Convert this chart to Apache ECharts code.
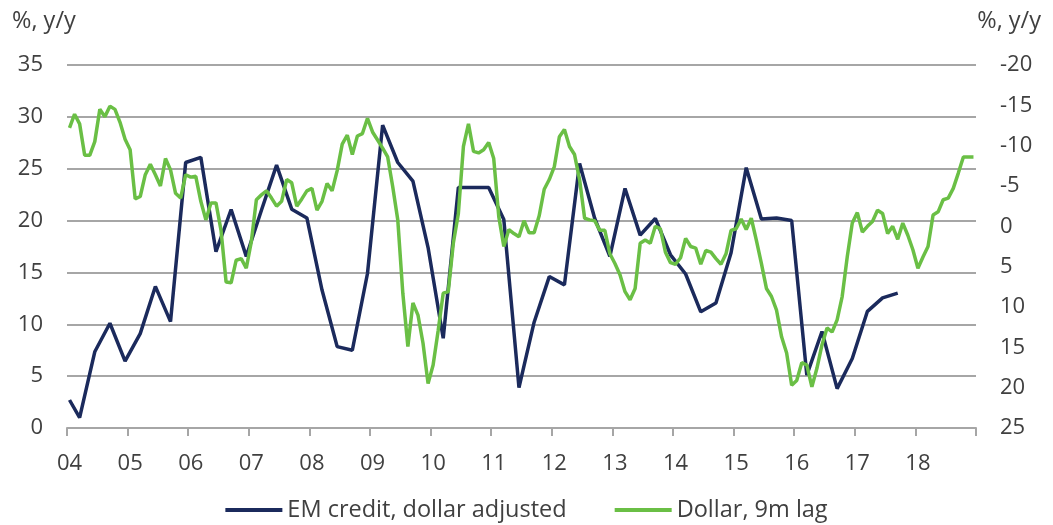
<!DOCTYPE html>
<html>
<head>
<meta charset="utf-8">
<script src="https://cdn.jsdelivr.net/npm/echarts@6/dist/echarts.min.js"></script>
<style>
html,body{margin:0;padding:0;background:#fff;}
#chart{width:1053px;height:525px;}
</style>
</head>
<body>
<div id="chart"></div>
<script>
// Year tick labels (each year has 12 monthly categories)
var yearLabels = ['04','05','06','07','08','09','10','11','12','13','14','15','16','17','18'];

// EM credit, dollar adjusted (%, y/y, left axis): first value Jan 2004, then quarter-end values Mar 2004 .. Sep 2017
var emCreditStart = 2.7;
var emCreditQuarterly = [
  1.0, 7.35, 10.1, 6.45,
  9.1, 13.65, 10.26, 25.6,
  26.1, 17.0, 21.07, 16.55,
  21.0, 25.35, 21.1, 20.25,
  13.3, 7.85, 7.5, 14.9,
  29.2, 25.6, 23.8, 17.4,
  8.65, 23.2, 23.2, 23.2,
  20.1, 3.9, 10.2, 14.6,
  13.8, 25.5, 20.2, 16.55,
  23.1, 18.6, 20.2, 16.7,
  14.85, 11.2, 12.05, 16.9,
  25.1, 20.15, 20.25, 20.0,
  5.1, 9.3, 3.8, 6.7,
  11.25, 12.55, 13.0
];

// Dollar, 9m lag (%, y/y, right inverted axis): monthly Jan 2004 .. Dec 2018
var dollarLagged = [
  -12.2, -13.9, -12.7, -8.8, -8.8, -10.5, -14.5, -13.6, -14.9, -14.5, -12.9, -10.8,
  -9.5, -3.4, -3.7, -6.4, -7.7, -6.4, -5.0, -8.4, -7.0, -4.1, -3.5, -6.4,
  -6.1, -6.2, -3.1, -0.8, -2.9, -2.9, 0.5, 6.9, 7.0, 4.2, 4.0, 5.2,
  1.9, -3.3, -3.9, -4.4, -3.5, -2.5, -3.1, -5.8, -5.4, -2.5, -3.4, -4.4,
  -4.7, -2.0, -3.1, -5.3, -4.4, -6.9, -10.2, -11.3, -8.9, -11.2, -11.5, -13.4,
  -11.7, -10.7, -9.7, -8.6, -4.9, -0.8, 8.3, 14.9, 9.5, 11.0, 14.5, 19.5,
  17.2, 12.9, 8.3, 8.1, 2.1, -1.6, -9.9, -12.7, -9.3, -9.1, -9.5, -10.4,
  -8.4, -1.2, 2.5, 0.4, 0.9, 1.3, -0.7, 0.8, 0.8, -1.3, -4.6, -5.8,
  -7.4, -11.1, -12.0, -9.9, -8.9, -5.8, -1.0, -0.8, -0.7, 0.5, 0.5, 3.4,
  4.6, 6.0, 8.1, 9.1, 7.7, 2.1, 1.7, 2.1, 0.0, 0.3, 3.2, 4.5,
  4.7, 3.9, 1.5, 2.5, 2.7, 4.7, 3.0, 3.2, 4.0, 4.7, 3.4, 0.5,
  0.3, -0.9, 0.4, -1.0, 1.7, 4.6, 7.7, 8.7, 10.4, 13.7, 15.7, 19.7,
  19.1, 16.9, 17.2, 19.9, 17.6, 14.7, 12.6, 13.1, 11.6, 8.7, 3.8, -0.4,
  -1.7, 0.7, 0.0, -0.6, -2.0, -1.6, 0.9, 0.0, 1.6, -0.4, 1.1, 2.9,
  5.2, 3.8, 2.5, -1.4, -1.8, -3.3, -3.5, -4.7, -6.6, -8.6, -8.6, -8.6
];

var seriesNames = ['EM credit, dollar adjusted', 'Dollar, 9m lag'];
var axisUnit = '%, y/y';

// Build monthly categories and place EM credit values at their months
var categories = [];
yearLabels.forEach(function (y) {
  for (var m = 1; m <= 12; m++) categories.push(y + '-' + (m < 10 ? '0' + m : m));
});
var emCredit = categories.map(function () { return null; });
emCredit[0] = emCreditStart;
emCreditQuarterly.forEach(function (v, k) { emCredit[2 + 3 * k] = v; });

var FONT = '"Open Sans", "Noto Sans", sans-serif';
var FS = 22;
var FS2 = 23.5;
var TXT = '#404040';
var GRID = '#a6a6a6';

var chart = echarts.init(document.getElementById('chart'), null, {renderer: 'canvas'});
chart.setOption({
  animation: false,
  backgroundColor: '#ffffff',
  textStyle: {fontFamily: FONT, color: TXT},
  grid: {left: 67, right: 77, top: 65, bottom: 97, containLabel: false},
  legend: {
    top: 493,
    left: 'center',
    itemWidth: 57,
    itemHeight: 4,
    itemGap: 48,
    icon: 'rect',
    textStyle: {fontFamily: FONT, fontSize: FS2, color: TXT},
    data: seriesNames
  },
  graphic: [
    {type: 'text', left: 12, top: 9, style: {text: axisUnit, font: FS2 + 'px ' + FONT, fill: TXT}},
    {type: 'text', right: 12, top: 9, style: {text: axisUnit, font: FS2 + 'px ' + FONT, fill: TXT}}
  ],
  xAxis: {
    type: 'category',
    data: categories,
    boundaryGap: true,
    axisLine: {show: true, lineStyle: {color: GRID, width: 2}},
    axisTick: {show: true, interval: 11, length: 8, lineStyle: {color: GRID, width: 2}},
    axisLabel: {
      interval: 11,
      margin: 25,
      fontFamily: FONT,
      fontSize: FS,
      color: TXT,
      formatter: function (v) { return v.slice(0, 2); }
    },
    splitLine: {show: false}
  },
  yAxis: [
    {
      type: 'value',
      min: 0, max: 35, interval: 5,
      axisLine: {show: false},
      axisTick: {show: false},
      axisLabel: {margin: 24, fontFamily: FONT, fontSize: FS, color: TXT},
      splitLine: {show: true, lineStyle: {color: GRID, width: 2}}
    },
    {
      type: 'value',
      min: -20, max: 25, interval: 5,
      inverse: true,
      position: 'right',
      axisLine: {show: false},
      axisTick: {show: false},
      axisLabel: {margin: 24, fontFamily: FONT, fontSize: FS, color: TXT},
      splitLine: {show: false}
    }
  ],
  series: [
    {
      name: seriesNames[0],
      type: 'line',
      yAxisIndex: 0,
      data: emCredit,
      connectNulls: true,
      showSymbol: false,
      symbol: 'none',
      lineStyle: {color: '#1b2a5c', width: 3.5},
      itemStyle: {color: '#1b2a5c'},
      z: 2
    },
    {
      name: seriesNames[1],
      type: 'line',
      yAxisIndex: 1,
      data: dollarLagged,
      showSymbol: false,
      symbol: 'none',
      lineStyle: {color: '#6abf45', width: 3.5},
      itemStyle: {color: '#6abf45'},
      z: 3
    }
  ]
});
</script>
</body>
</html>
